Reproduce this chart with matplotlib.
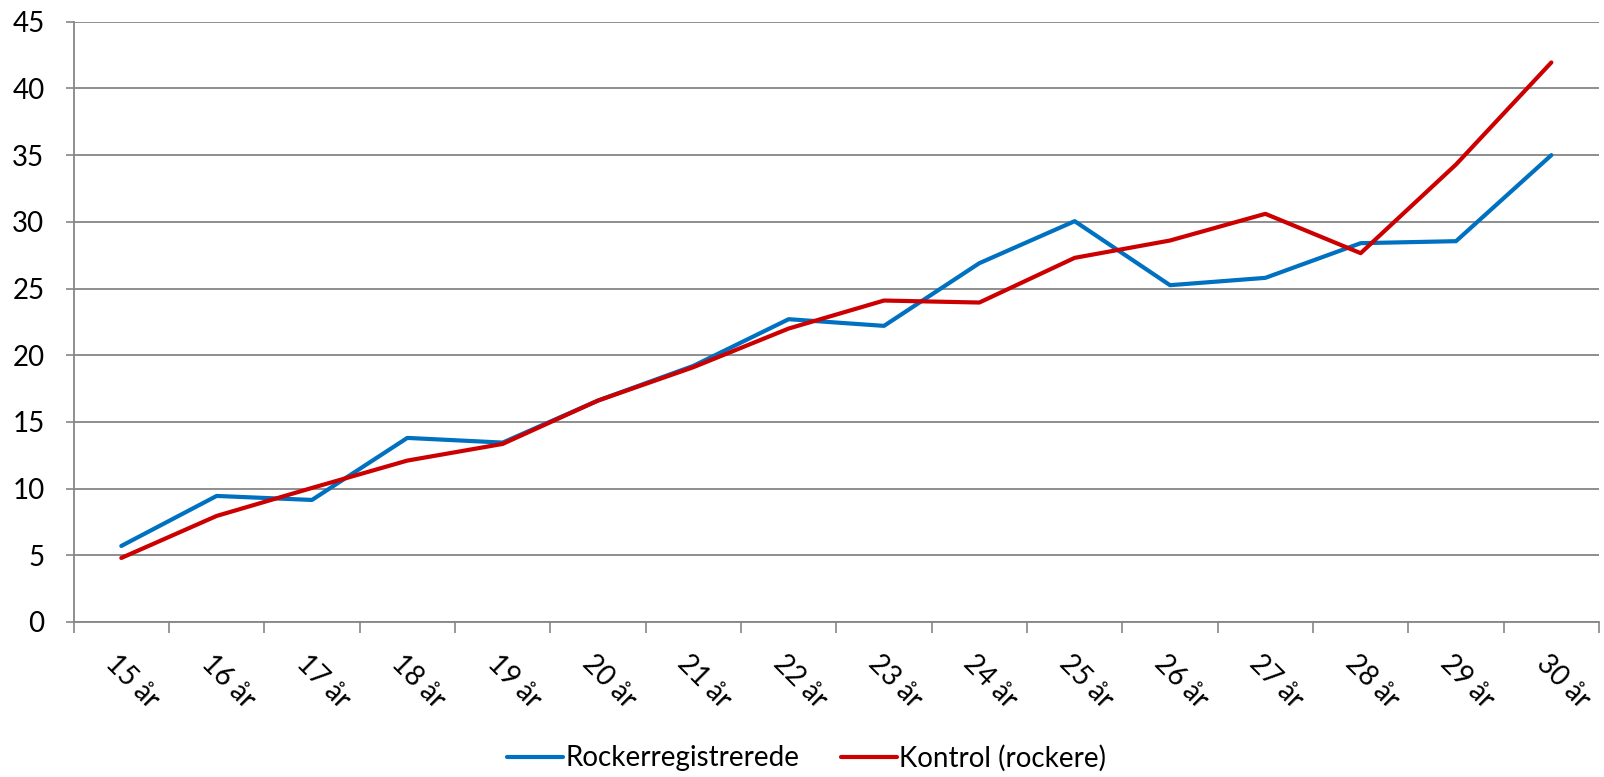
import numpy as np
import matplotlib
matplotlib.use("Agg")
import matplotlib.pyplot as plt
from matplotlib.transforms import ScaledTranslation

# data
ages = ["15 år", "16 år", "17 år", "18 år", "19 år", "20 år", "21 år", "22 år",
        "23 år", "24 år", "25 år", "26 år", "27 år", "28 år", "29 år", "30 år"]
rocker = [5.7, 9.45, 9.15, 13.8, 13.45, 16.6, 19.2, 22.7,
          22.2, 26.9, 30.05, 25.25, 25.8, 28.4, 28.55, 35.0]
kontrol = [4.8, 7.95, 10.05, 12.1, 13.35, 16.6, 19.1, 22.0,
           24.1, 23.95, 27.3, 28.6, 30.6, 27.65, 34.3, 41.95]
y_ticks = [0, 5, 10, 15, 20, 25, 30, 35, 40, 45]

grey = "#868686"
plt.rcParams['font.family'] = ['Lato', 'DejaVu Sans']

fig = plt.figure(figsize=(16.04, 7.77), dpi=100)
ax = fig.add_axes([0.0459, 0.1995, 0.951, 0.7725])

x = np.arange(len(ages))
ax.plot(x, rocker, color="#0070C0", lw=3.0, label="Rockerregistrerede", solid_capstyle="round")
ax.plot(x, kontrol, color="#CC0000", lw=3.0, label="Kontrol (rockere)", solid_capstyle="round")

ax.set_xlim(-0.5, len(ages) - 0.5)
ax.set_ylim(0, 45)
ax.set_yticks(y_ticks)
ax.tick_params(axis="y", labelsize=20, length=6, width=1.2, color=grey, pad=15)
ax.grid(axis="y", color=grey, lw=1.3)
ax.set_axisbelow(True)

# category boundary ticks, labels at category centers
ax.set_xticks(np.arange(len(ages) + 1) - 0.5)
ax.set_xticklabels([])
ax.set_xticks(x, minor=True)
ax.set_xticklabels(ages, minor=True, rotation=-45, ha="left", va="top",
                   rotation_mode="anchor", fontsize=20)
ax.tick_params(axis="x", which="major", length=8, width=1.2, color=grey, direction="out")
ax.tick_params(axis="x", which="minor", length=0, pad=20)
off = ScaledTranslation(-2 / 100, 0, fig.dpi_scale_trans)
for lab in ax.get_xticklabels(minor=True):
    lab.set_transform(lab.get_transform() + off)

for s in ["top", "right"]:
    ax.spines[s].set_visible(False)
for s in ["left", "bottom"]:
    ax.spines[s].set_color(grey)
    ax.spines[s].set_linewidth(1.3)

fig.legend(loc="lower center", bbox_to_anchor=(0.503, -0.025), ncol=2, frameon=False,
           fontsize=20, handlelength=2.0, handletextpad=0.1, columnspacing=1.5)

fig.savefig("out.png", dpi=100)
